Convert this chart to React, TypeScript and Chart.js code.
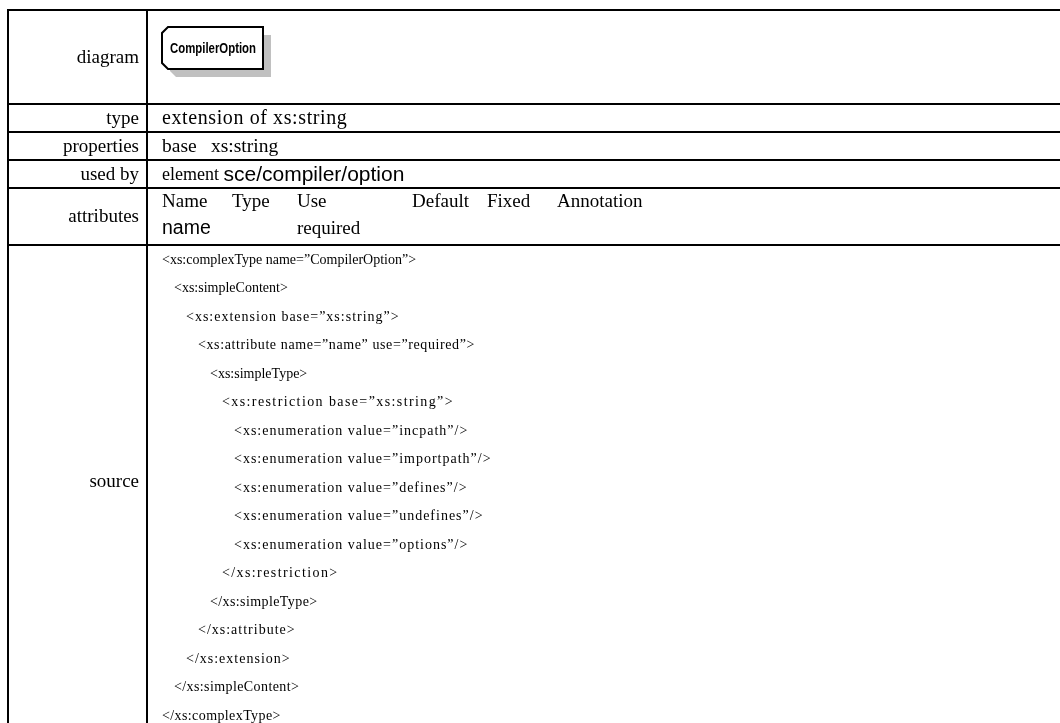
import React, { useEffect, useRef } from "react";
import { Chart, registerables } from "chart.js";

Chart.register(...registerables);

// ---- data (text content of the schema documentation table) ----
const rowLabels = ["diagram", "type", "properties", "used by", "attributes", "source"];
const diagramName = "CompilerOption";
const typeText = "extension of xs:string";
const propertyNames = ["base"];
const propertyValues = ["xs:string"];
const usedByKind = "element";
const usedByPath = "sce/compiler/option";
const attrHeaders = ["Name", "Type", "Use", "Default", "Fixed", "Annotation"];
const attrValues = ["name", "", "required", "", "", ""];
const sourceLines = [
  "<xs:complexType name=\u201DCompilerOption\u201D>",
  "<xs:simpleContent>",
  "<xs:extension base=\u201Dxs:string\u201D>",
  "<xs:attribute name=\u201Dname\u201D use=\u201Drequired\u201D>",
  "<xs:simpleType>",
  "<xs:restriction base=\u201Dxs:string\u201D>",
  "<xs:enumeration value=\u201Dincpath\u201D/>",
  "<xs:enumeration value=\u201Dimportpath\u201D/>",
  "<xs:enumeration value=\u201Ddefines\u201D/>",
  "<xs:enumeration value=\u201Dundefines\u201D/>",
  "<xs:enumeration value=\u201Doptions\u201D/>",
  "</xs:restriction>",
  "</xs:simpleType>",
  "</xs:attribute>",
  "</xs:extension>",
  "</xs:simpleContent>",
  "</xs:complexType>",
];
const sourceDepth = [0, 1, 2, 3, 4, 5, 6, 6, 6, 6, 6, 5, 4, 3, 2, 1, 0];
const sourceSpacing = [0, 0, 1, 0.6, 0, 1.4, 1, 1, 1, 1, 1, 1.4, 0.4, 1, 1, 0.4, 0.4];

// ---- layout / style ----
const W = 1060;
const H = 723;
const SERIF = "'Liberation Serif', 'Times New Roman', serif";
const SANS = "'Liberation Sans', Arial, sans-serif";

const tablePlugin = {
  id: "schemaTable",
  afterDraw(chart: any) {
    const ctx: CanvasRenderingContext2D = chart.ctx;
    const left = 8;
    const top = 10;
    const divX = 147;
    const right = W;
    const rowBounds = [top, 104, 132, 160, 188, 245, H + 2];
    const cx = divX + 15;

    ctx.save();
    ctx.fillStyle = "#ffffff";
    ctx.fillRect(0, 0, W, H);

    // grid lines
    ctx.strokeStyle = "#000000";
    ctx.lineWidth = 2;
    ctx.beginPath();
    for (let i = 0; i < rowBounds.length - 1; i++) {
      ctx.moveTo(left - 1, rowBounds[i]);
      ctx.lineTo(right, rowBounds[i]);
    }
    ctx.moveTo(left, top);
    ctx.lineTo(left, H);
    ctx.moveTo(divX, top);
    ctx.lineTo(divX, H);
    ctx.stroke();

    // row labels
    ctx.fillStyle = "#000000";
    ctx.textBaseline = "middle";
    ctx.textAlign = "right";
    ctx.font = `19px ${SERIF}`;
    rowLabels.forEach((lab, i) => {
      const y = (rowBounds[i] + rowBounds[i + 1]) / 2;
      ctx.fillText(lab, divX - 8, i === rowLabels.length - 1 ? 482 : y + 1);
    });

    ctx.textAlign = "left";
    // diagram box
    const bx = cx, by = 27, bw = 101, bh = 42, c = 6, sh = 8;
    const shape = (ox: number, oy: number) => {
      ctx.beginPath();
      ctx.moveTo(bx + ox + c, by + oy);
      ctx.lineTo(bx + ox + bw, by + oy);
      ctx.lineTo(bx + ox + bw, by + oy + bh);
      ctx.lineTo(bx + ox + c, by + oy + bh);
      ctx.lineTo(bx + ox, by + oy + bh - c);
      ctx.lineTo(bx + ox, by + oy + c);
      ctx.closePath();
    };
    shape(sh, sh);
    ctx.fillStyle = "#c0c0c0";
    ctx.fill();
    shape(0, 0);
    ctx.fillStyle = "#ffffff";
    ctx.fill();
    ctx.lineWidth = 2;
    ctx.strokeStyle = "#000000";
    ctx.stroke();
    ctx.fillStyle = "#000000";
    ctx.font = `bold 14px ${SANS}`;
    const nameW = ctx.measureText(diagramName).width;
    const targetW = 86;
    ctx.save();
    ctx.translate(bx + 8, by + bh / 2 + 1);
    ctx.scale(targetW / nameW, 1);
    ctx.fillText(diagramName, 0, 0);
    ctx.restore();

    // type
    ctx.font = `20px ${SERIF}`;
    (ctx as any).letterSpacing = "0.6px";
    ctx.fillText(typeText, cx, (rowBounds[1] + rowBounds[2]) / 2 + 1);
    (ctx as any).letterSpacing = "0px";
    // properties
    const py = (rowBounds[2] + rowBounds[3]) / 2 + 1;
    ctx.font = `19.5px ${SERIF}`;
    propertyNames.forEach((n, i) => {
      ctx.fillText(n, cx, py);
      ctx.fillText(propertyValues[i], cx + 49, py);
    });
    // used by
    const uy = (rowBounds[3] + rowBounds[4]) / 2 + 1;
    ctx.font = `18px ${SERIF}`;
    ctx.fillText(usedByKind, cx, uy);
    const kw = ctx.measureText(usedByKind + " ").width;
    ctx.font = `21px ${SANS}`;
    ctx.fillText(usedByPath, cx + kw, uy);
    // attributes
    const colX = [cx, cx + 70, cx + 135, cx + 250, cx + 325, cx + 395];
    ctx.font = `19px ${SERIF}`;
    attrHeaders.forEach((h, i) => ctx.fillText(h, colX[i], 202));
    attrValues.forEach((v, i) => {
      if (!v) return;
      ctx.font = i === 0 ? `19.5px ${SANS}` : `19px ${SERIF}`;
      ctx.fillText(v, colX[i], 229);
    });

    // source
    ctx.font = `14px ${SERIF}`;
    const step = 28.5;
    sourceLines.forEach((line, i) => {
      (ctx as any).letterSpacing = `${sourceSpacing[i]}px`;
      ctx.fillText(line, cx + sourceDepth[i] * 12, 260 + i * step);
    });
    (ctx as any).letterSpacing = "0px";
    ctx.restore();
  },
};

export default function App() {
  const ref = useRef<HTMLCanvasElement | null>(null);
  useEffect(() => {
    if (!ref.current) return;
    const chart = new Chart(ref.current, {
      type: "scatter",
      data: { datasets: [{ data: [] }] },
      options: {
        responsive: false,
        animation: false,
        layout: { padding: 0 },
        plugins: { legend: { display: false }, tooltip: { enabled: false } },
        scales: { x: { display: false }, y: { display: false } },
      },
      plugins: [tablePlugin],
    });
    return () => chart.destroy();
  }, []);
  return (
    <div style={{ position: "fixed", left: 0, top: 0, width: W, height: H, background: "#fff" }}>
      <canvas ref={ref} width={W} height={H} style={{ display: "block" }} />
    </div>
  );
}
